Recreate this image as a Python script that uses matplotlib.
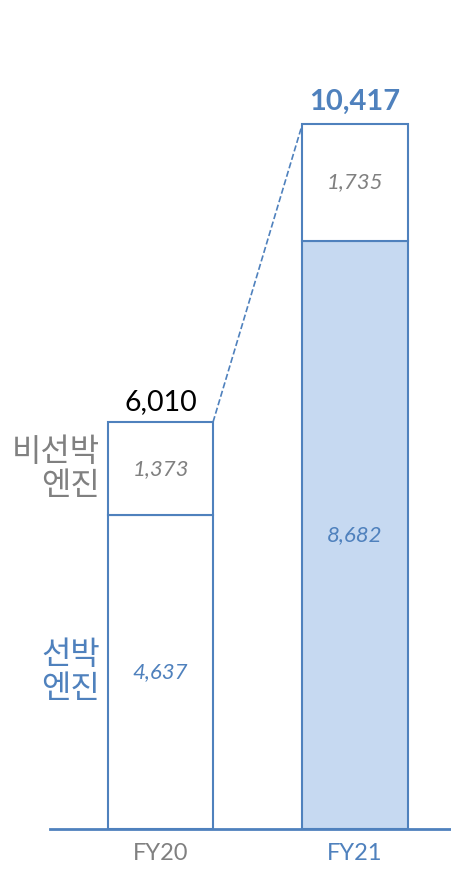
import numpy as np
import matplotlib.pyplot as plt

plt.rcParams['font.family'] = ['Lato', 'Noto Sans CJK KR', 'DejaVu Sans']

# Data
years = ['FY20', 'FY21']
marine = [4637, 8682]       # 선박 엔진
non_marine = [1373, 1735]   # 비선박 엔진
totals = [6010, 10417]

blue = '#4F81BD'
light_blue = '#C6D9F1'
gray = '#808080'
kr = ['Noto Sans CJK KR', 'DejaVu Sans']

fig = plt.figure(figsize=(4.52, 8.71), dpi=100)
ax = fig.add_axes([0, 42 / 871, 1, 1 - 42 / 871])

x = np.arange(len(years))
width = 0.54
marine_fill = ['white', light_blue]

ax.bar(x, marine, width, color=marine_fill, edgecolor=blue, linewidth=1.5, zorder=2)
ax.bar(x, non_marine, width, bottom=marine, color='white', edgecolor=blue,
       linewidth=1.5, zorder=2)

# segment labels
for i in range(len(years)):
    ax.text(x[i], marine[i] / 2, f'{marine[i]:,}', ha='center', va='center',
            fontsize=16, style='italic', color=blue)
    ax.text(x[i], marine[i] + non_marine[i] / 2, f'{non_marine[i]:,}',
            ha='center', va='center', fontsize=16, style='italic', color=gray)

# totals
ax.annotate(f'{totals[0]:,}', (x[0], totals[0]), xytext=(0, 9),
            textcoords='offset points', ha='center', va='baseline',
            fontsize=20.5, color='black')
ax.annotate(f'{totals[1]:,}', (x[1], totals[1]), xytext=(0, 10),
            textcoords='offset points', ha='center', va='baseline',
            fontsize=21, fontweight='bold', color=blue)

# growth connector
ax.plot([x[0] + width / 2, x[1] - width / 2], [totals[0], totals[1]],
        ls='--', color=blue, lw=1.2, zorder=1)

# series labels on the left
ax.text(x[0] - width / 2 - 0.04, marine[0] + non_marine[0] / 2, '비선박\n엔진',
        ha='right', va='center', fontsize=23, color=gray, linespacing=1.08,
        multialignment='right', family=kr)
ax.text(x[0] - width / 2 - 0.04, marine[0] / 2, '선박\n엔진',
        ha='right', va='center', fontsize=23, color=blue, linespacing=1.08,
        multialignment='right', family=kr)

ax.set_xlim(-160.5 / 194.5, (452 - 160.5) / 194.5)
ax.set_ylim(0, 829 / 0.0677)
ax.set_xticks(x)
ax.set_xticklabels(years, fontsize=17)
for lab, c in zip(ax.get_xticklabels(), [gray, blue]):
    lab.set_color(c)
ax.tick_params(axis='x', length=0, pad=10)
ax.set_yticks([])
for s in ['top', 'right', 'left']:
    ax.spines[s].set_visible(False)
ax.spines['bottom'].set_color(blue)
ax.spines['bottom'].set_linewidth(2)
ax.spines['bottom'].set_bounds((50 - 160.5) / 194.5, (452 - 160.5) / 194.5)
ax.spines['bottom'].set_zorder(3)

fig.savefig('out.png', dpi=100)
